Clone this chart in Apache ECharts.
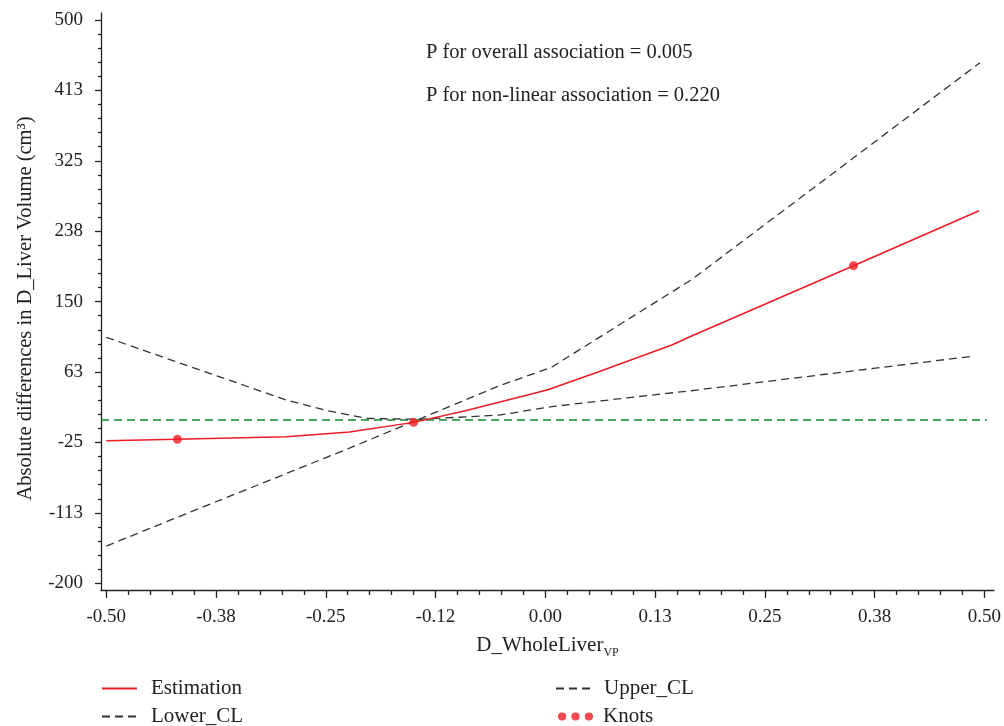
<!DOCTYPE html>
<html><head><meta charset="utf-8">
<script src="https://cdn.jsdelivr.net/npm/echarts@6/dist/echarts.min.js"></script>
<style>html,body{margin:0;padding:0;background:#fff}#c{width:1004px;height:726px}</style>
</head><body><div id="c"></div>
<script>
// ---- data ----
const estimationX = [-0.5, -0.419, -0.295, -0.223, -0.150, -0.091, 0.002, 0.060, 0.144, 0.166, 0.351, 0.494];
const estimationY = [-22.8, -21.1, -17.8, -12.0, 0.0, 14.5, 40.2, 62.6, 96.1, 107.0, 194.7, 263.0];
const upperX = [-0.5, -0.419, -0.295, -0.250, -0.204, -0.144, -0.053, 0.007, 0.098, 0.166, 0.495];
const upperY = [105.7, 74.8, 27.8, 15.0, 5.0, 3.8, 45.2, 68.4, 130.7, 176.9, 446.9];
const lowerX = [-0.5, -0.419, -0.295, -0.223, -0.144, -0.053, 0.007, 0.098, 0.166, 0.489];
const lowerY = [-153.7, -117.9, -63.6, -32.0, 3.8, 9.0, 19.5, 31.1, 39.3, 82.5];
const knotsX = [-0.419, -0.150, 0.351];
const knotsY = [-21.1, 0.0, 194.7];
const refX = [-0.506, 0.503];
const refY = [3.0, 3.0];

const xTickValues = [-0.5, -0.375, -0.25, -0.125, 0, 0.125, 0.25, 0.375, 0.5];
const xTickLabels = ['-0.50', '-0.38', '-0.25', '-0.12', '0.00', '0.13', '0.25', '0.38', '0.50'];
const yTickValues = [-200, -112.5, -25, 62.5, 150, 237.5, 325, 412.5, 500];
const yTickLabels = ['-200', '-113', '-25', '63', '150', '238', '325', '413', '500'];
const annotations = ['P for overall association = 0.005', 'P for non-linear association = 0.220'];

function minorBetween(majors, n) {
  const out = [];
  for (let i = 0; i < majors.length - 1; i++) {
    const step = (majors[i + 1] - majors[i]) / n;
    for (let k = 1; k < n; k++) out.push(majors[i] + step * k);
  }
  return out;
}
const zip = (a, b) => a.map((v, i) => [v, b[i]]);

const FONT = '"Liberation Serif", "DejaVu Serif", serif';
const INK = '#222';
const RED = '#ed1c24';
const DASH = [8, 5];
const legendText = {fontFamily: FONT, fontSize: 21, color: INK};

const chart = echarts.init(document.getElementById('c'), null, {renderer: 'canvas'});
const axisCommon = {
  type: 'value', splitLine: {show: false}, axisLine: {onZero: false}
};
chart.setOption({
  animation: false,
  backgroundColor: '#fff',
  grid: {left: 101, right: 7, top: 13, bottom: 136},
  xAxis: [
    Object.assign({}, axisCommon, {
      min: -0.506, max: 0.511, position: 'bottom',
      axisLine: {show: true, onZero: false, lineStyle: {color: INK, width: 1.3}},
      axisTick: {show: true, length: 8, customValues: xTickValues, lineStyle: {color: INK, width: 1.3}},
      axisLabel: {customValues: xTickValues, margin: 18, color: INK, fontFamily: FONT, fontSize: 19,
        formatter: v => xTickLabels[xTickValues.indexOf(v)]},
      name: '{a|D_WholeLiver}{s|VP}', nameLocation: 'middle', nameGap: 34,
      nameTextStyle: {rich: {
        a: {fontFamily: FONT, fontSize: 21, color: INK, lineHeight: 26},
        s: {fontFamily: FONT, fontSize: 12, color: INK, lineHeight: 12, padding: [15, 0, 0, 0]}
      }}
    }),
    Object.assign({}, axisCommon, {
      min: -0.506, max: 0.511, position: 'bottom',
      axisLine: {show: false, onZero: false},
      axisTick: {show: true, length: 5, customValues: minorBetween(xTickValues, 5), lineStyle: {color: INK, width: 1.3}},
      axisLabel: {show: false}
    })
  ],
  yAxis: [
    Object.assign({}, axisCommon, {
      min: -208.3, max: 508.7, position: 'left',
      axisLine: {show: true, onZero: false, lineStyle: {color: INK, width: 1.3}},
      axisTick: {show: true, length: 6, customValues: yTickValues, lineStyle: {color: INK, width: 1.3}},
      axisLabel: {customValues: yTickValues, margin: 18, color: INK, fontFamily: FONT, fontSize: 19,
        formatter: v => yTickLabels[yTickValues.indexOf(v)]},
      name: 'Absolute differences in D_Liver Volume (cm³)', nameLocation: 'middle', nameGap: 65,
      nameTextStyle: {fontFamily: FONT, fontSize: 20.5, color: INK, padding: [0, 14, 0, 0]}
    }),
    Object.assign({}, axisCommon, {
      min: -208.3, max: 508.7, position: 'left',
      axisLine: {show: false, onZero: false},
      axisTick: {show: true, length: 3, customValues: minorBetween(yTickValues, 5), lineStyle: {color: INK, width: 1.3}},
      axisLabel: {show: false}
    })
  ],
  legend: [
    {data: ['Estimation'], left: 101, top: 678, padding: 0, itemWidth: 35, itemHeight: 14,
      itemStyle: {opacity: 0}, textStyle: Object.assign({padding: [0, 0, 0, 9]}, legendText)},
    {data: ['Lower_CL'], left: 101, top: 706, padding: 0, itemWidth: 35, itemHeight: 14,
      itemStyle: {opacity: 0}, textStyle: Object.assign({padding: [0, 0, 0, 9]}, legendText)},
    {data: ['Upper_CL'], left: 555, top: 678, padding: 0, itemWidth: 35, itemHeight: 14,
      itemStyle: {opacity: 0}, textStyle: Object.assign({padding: [0, 0, 0, 8]}, legendText)},
    {data: [{name: 'Knots', icon: 'path://M0,4a4,4 0 1,0 8,0a4,4 0 1,0 -8,0zM13,4a4,4 0 1,0 8,0a4,4 0 1,0 -8,0zM26,4a4,4 0 1,0 8,0a4,4 0 1,0 -8,0z'}],
      left: 558, top: 706, padding: 0, itemWidth: 35, itemHeight: 9,
      textStyle: Object.assign({padding: [0, 0, 0, 5]}, legendText)}
  ],
  graphic: annotations.map((t, i) => ({
    type: 'text', x: 426, y: 53 + i * 43, silent: true,
    style: {text: t, font: '20.5px ' + FONT, fill: INK, verticalAlign: 'middle'}
  })),
  series: [
    {name: 'Reference', type: 'line', data: zip(refX, refY), symbol: 'none', silent: true,
      lineStyle: {color: '#0f8a2e', width: 1.5, type: DASH}, z: 1},
    {name: 'Upper_CL', type: 'line', data: zip(upperX, upperY), symbol: 'none',
      lineStyle: {color: '#333', width: 1.3, type: DASH}, itemStyle: {color: '#333'}, z: 2},
    {name: 'Lower_CL', type: 'line', data: zip(lowerX, lowerY), symbol: 'none',
      lineStyle: {color: '#333', width: 1.3, type: DASH}, itemStyle: {color: '#333'}, z: 2},
    {name: 'Estimation', type: 'line', data: zip(estimationX, estimationY), symbol: 'none',
      lineStyle: {color: RED, width: 1.5}, itemStyle: {color: RED}, z: 3},
    {name: 'Knots', type: 'scatter', data: zip(knotsX, knotsY), symbolSize: 9,
      itemStyle: {color: RED}, z: 4}
  ]
});
</script></body></html>
